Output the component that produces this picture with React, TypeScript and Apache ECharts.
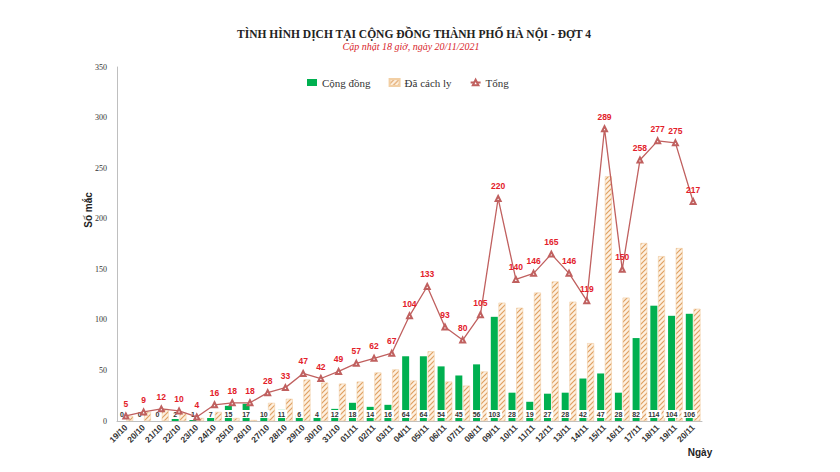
import React, { useEffect, useRef } from "react";
import * as echarts from "echarts";

const categories = [
  "19/10","20/10","21/10","22/10","23/10","24/10","25/10","26/10","27/10","28/10","29/10","30/10","31/10",
  "01/11","02/11","03/11","04/11","05/11","06/11","07/11","08/11","09/11","10/11","11/11","12/11","13/11",
  "14/11","15/11","16/11","17/11","18/11","19/11","20/11",
];
const congDong = [0,0,0,2,1,7,15,17,10,11,6,4,12,18,14,16,64,64,54,45,56,103,28,19,27,28,42,47,28,82,114,104,106];
const daCachLy = [5,9,12,8,3,9,3,1,18,22,41,38,37,39,48,51,40,69,39,35,49,117,112,127,138,118,77,242,122,176,163,171,111];
const tong = [5,9,12,10,4,16,18,18,28,33,47,42,49,57,62,67,104,133,93,80,105,220,140,146,165,146,119,289,150,258,277,275,217];
const yTicks = [0, 50, 100, 150, 200, 250, 300, 350];

function makeHatch(): HTMLCanvasElement {
  const c = document.createElement("canvas");
  const s = 5;
  c.width = s;
  c.height = s;
  const ctx = c.getContext("2d")!;
  ctx.fillStyle = "#fdf0e0";
  ctx.fillRect(0, 0, s, s);
  ctx.strokeStyle = "#dfa063";
  ctx.lineWidth = 1.2;
  for (const o of [-s, 0, s]) {
    ctx.beginPath();
    ctx.moveTo(o - 1, s + 1);
    ctx.lineTo(o + s + 1, -1);
    ctx.stroke();
  }
  return c;
}

export default function App() {
  const ref = useRef<HTMLDivElement>(null);
  useEffect(() => {
    if (!ref.current) return;
    const chart = echarts.init(ref.current, undefined, { renderer: "svg" });
    const hatch = { image: makeHatch(), repeat: "repeat" } as any;
    chart.setOption({
      animation: false,
      backgroundColor: "#ffffff",
      grid: { left: 117, right: 138, top: 67, bottom: 51 },
      legend: {
        top: 72,
        left: 302,
        itemGap: 18,
        itemWidth: 10,
        itemHeight: 7,
        textStyle: { fontFamily: "Liberation Serif", fontSize: 11, color: "#333" },
        data: [
          { name: "Cộng đồng", icon: "rect" },
          { name: "Đã cách ly", icon: "rect" },
          { name: "Tổng" },
        ],
      },
      graphic: [
        {
          type: "text",
          x: 414,
          y: 34,
          style: {
            text: "TÌNH HÌNH DỊCH TẠI CỘNG ĐỒNG THÀNH PHỐ HÀ NỘI - ĐỢT 4",
            font: "bold 11.5px 'Liberation Serif'",
            fill: "#222",
            align: "center",
            verticalAlign: "middle",
          },
        },
        {
          type: "text",
          x: 411,
          y: 46,
          style: {
            text: "Cập nhật 18 giờ, ngày 20/11/2021",
            font: "italic 10px 'Liberation Serif'",
            fill: "#d8232a",
            align: "center",
            verticalAlign: "middle",
          },
        },
        {
          type: "text",
          x: 88,
          y: 210,
          rotation: Math.PI / 2,
          style: {
            text: "Số mắc",
            font: "bold 10px 'Liberation Sans'",
            fill: "#222",
            align: "center",
            verticalAlign: "middle",
          },
        },
        {
          type: "text",
          x: 700,
          y: 452,
          style: {
            text: "Ngày",
            font: "bold 10px 'Liberation Sans'",
            fill: "#222",
            align: "center",
            verticalAlign: "middle",
          },
        },
      ],
      xAxis: {
        type: "category",
        data: categories,
        axisLine: { lineStyle: { color: "#bfbfbf" } },
        axisTick: { show: false },
        axisLabel: {
          interval: 0,
          rotate: 45,
          fontSize: 8.5,
          fontWeight: "bold",
          fontFamily: "Liberation Sans",
          color: "#333",
          margin: 5,
        },
      },
      yAxis: {
        type: "value",
        min: 0,
        max: 350,
        interval: 50,
        splitLine: { show: false },
        axisLine: { show: true, lineStyle: { color: "#bfbfbf" } },
        axisTick: { show: false },
        axisLabel: {
          fontSize: 8,
          fontFamily: "Liberation Serif",
          color: "#333",
          margin: 10,
          formatter: (v: number) => (yTicks.includes(v) ? String(v) : ""),
        },
      },
      series: [
        {
          name: "Cộng đồng",
          type: "bar",
          data: congDong,
          barWidth: 7,
          barGap: "10%",
          itemStyle: { color: "#00b050" },
          label: {
            show: true,
            position: "insideBottom",
            distance: 3,
            fontSize: 7,
            fontWeight: "bold",
            fontFamily: "Liberation Sans",
            color: "#333",
            backgroundColor: "#ffffff",
            padding: [1, 2, 0, 2],
          },
          z: 3,
        },
        {
          name: "Đã cách ly",
          type: "bar",
          data: daCachLy,
          barWidth: 7,
          itemStyle: { color: hatch, borderColor: "#f2cfa4", borderWidth: 0.6 },
          z: 2,
        },
        {
          name: "Tổng",
          type: "line",
          data: tong,
          symbol: "emptyTriangle",
          symbolSize: 5,
          lineStyle: { color: "#c0605f", width: 1.3 },
          itemStyle: { color: "#c0605f" },
          label: {
            show: true,
            position: "top",
            distance: 4,
            fontSize: 8.5,
            fontWeight: "bold",
            fontFamily: "Liberation Sans",
            color: "#e3202a",
          },
          z: 4,
        },
      ],
    });
    return () => chart.dispose();
  }, []);
  return (
    <div
      ref={ref}
      style={{ position: "absolute", left: 0, top: 0, width: 840, height: 472 }}
    />
  );
}
